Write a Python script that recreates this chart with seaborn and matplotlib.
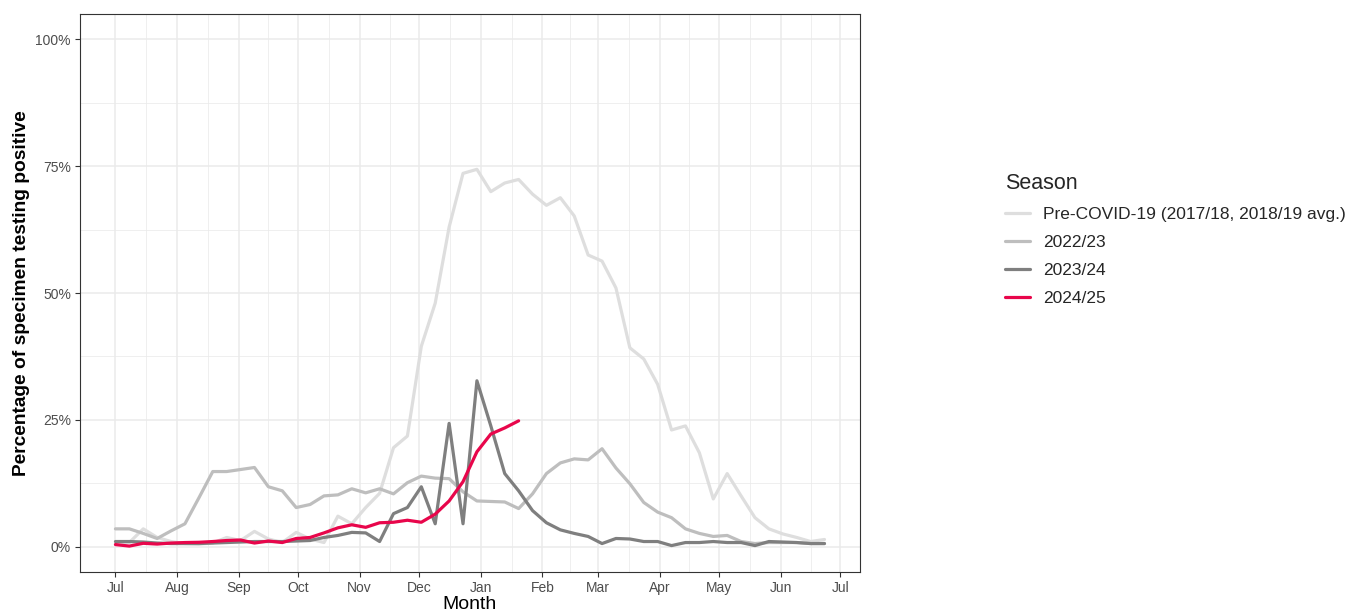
import pandas as pd
import numpy as np
import matplotlib
matplotlib.use("Agg")
import matplotlib.pyplot as plt
import matplotlib.dates as mdates
from matplotlib.ticker import FixedLocator, FuncFormatter
import seaborn as sns

# weekly values, week starting 2024-07-01 (plotted on the 2024/25 calendar)
weeks = pd.date_range("2024-07-01", periods=52, freq="7D")

pre_covid = [0.5, 0.8, 3.5, 1.8, 1.0, 0.6, 0.5, 0.7, 1.8, 1.2,
             3.0, 1.5, 0.8, 2.8, 1.5, 0.8, 6.0, 4.5, 7.7, 10.5,
             19.5, 21.8, 39.5, 48.0, 63.0, 73.6, 74.4, 70.0, 71.7, 72.4,
             69.5, 67.3, 68.8, 65.2, 57.5, 56.3, 51.0, 39.2, 37.0, 32.0,
             23.0, 23.8, 18.5, 9.4, 14.4, 10.0, 5.7, 3.5, 2.5, 1.8,
             1.0, 1.4]
s2022 = [3.5, 3.5, 2.6, 1.6, 3.1, 4.5, 9.6, 14.8, 14.8, 15.2,
         15.6, 11.8, 11.0, 7.7, 8.3, 10.0, 10.2, 11.4, 10.6, 11.4,
         10.4, 12.6, 13.9, 13.5, 13.4, 10.8, 9.0, 8.9, 8.8, 7.5,
         10.4, 14.4, 16.5, 17.3, 17.1, 19.3, 15.5, 12.4, 8.7, 6.8,
         5.7, 3.5, 2.6, 2.0, 2.2, 1.0, 0.6, 0.8, 0.8, 0.8,
         0.6, 0.6]
s2023 = [1.0, 1.0, 0.9, 0.7, 0.6, 0.6, 0.6, 0.7, 0.8, 0.9,
         1.0, 1.0, 1.0, 1.1, 1.2, 1.8, 2.2, 2.8, 2.7, 1.0,
         6.5, 7.7, 11.8, 4.5, 24.3, 4.5, 32.7, 23.8, 14.4, 11.0,
         7.1, 4.7, 3.3, 2.6, 2.0, 0.6, 1.6, 1.5, 1.0, 1.0,
         0.2, 0.8, 0.8, 1.0, 0.8, 0.8, 0.2, 1.0, 0.9, 0.8,
         0.6, 0.6]
s2024 = [0.4, 0.1, 0.65, 0.5, 0.7, 0.8, 0.85, 1.0, 1.2, 1.3,
         0.7, 1.1, 0.8, 1.6, 1.8, 2.7, 3.7, 4.3, 3.8, 4.7,
         4.8, 5.2, 4.8, 6.4, 9.0, 12.8, 18.7, 22.2, 23.4, 24.8]

seasons = ["Pre-COVID-19 (2017/18, 2018/19 avg.)", "2022/23", "2023/24", "2024/25"]
colours = ["#DEDEDE", "#BEBEBE", "#7F7F7F", "#E8064B"]

frames = []
for name, vals in zip(seasons, [pre_covid, s2022, s2023, s2024]):
    frames.append(pd.DataFrame({"Date": weeks[:len(vals)], "Pct": vals, "Season": name}))
df = pd.concat(frames, ignore_index=True)

sns.set_style("white")
plt.rcParams["font.family"] = ["Liberation Sans", "DejaVu Sans"]

fig = plt.figure(figsize=(13.65, 6.15), dpi=100)
ax = fig.add_axes([0.0586, 0.070, 0.5714, 0.907])

sns.lineplot(data=df, x="Date", y="Pct", hue="Season", hue_order=seasons,
             palette=dict(zip(seasons, colours)), linewidth=2.3, ax=ax)

# limits with ggplot-style 5% expansion
span = weeks[-1] - weeks[0]
ax.set_xlim(weeks[0] - span * 0.05, weeks[-1] + span * 0.05)
ax.set_ylim(-5, 105)

months = pd.date_range("2024-07-01", "2025-07-01", freq="MS")
mnum = mdates.date2num(months)
ax.xaxis.set_major_locator(FixedLocator(mnum))
ax.xaxis.set_major_formatter(mdates.DateFormatter("%b"))
ax.xaxis.set_minor_locator(FixedLocator((mnum[:-1] + mnum[1:]) / 2))
ax.yaxis.set_major_locator(FixedLocator([0, 25, 50, 75, 100]))
ax.yaxis.set_minor_locator(FixedLocator([12.5, 37.5, 62.5, 87.5]))
ax.yaxis.set_major_formatter(FuncFormatter(lambda v, p: f"{v:.0f}%"))

ax.grid(which="major", color="#EBEBEB", linewidth=1.1)
ax.grid(which="minor", color="#EBEBEB", linewidth=0.55)
ax.set_axisbelow(True)
for s in ax.spines.values():
    s.set_color("#333333")
    s.set_linewidth(0.8)
ax.tick_params(which="major", length=3.5, width=0.8, color="#333333",
               labelcolor="#4D4D4D", labelsize=10, pad=3, bottom=True, left=True)
ax.tick_params(which="minor", length=0)

ax.set_xlabel("Month", fontsize=14, color="black", labelpad=1)
ax.set_ylabel("Percentage of specimen testing positive", fontsize=13.8,
              fontweight="bold", color="black", labelpad=4)

handles, labels = ax.get_legend_handles_labels()
ax.get_legend().remove()
leg = fig.legend(handles, labels, title="Season", loc="upper left",
                 bbox_to_anchor=(0.7245, 0.744), frameon=False, fontsize=12.5,
                 title_fontsize=15.5, handlelength=1.45, handletextpad=0.75,
                 labelspacing=0.74, alignment="left")

fig.savefig("out.png", dpi=100)
